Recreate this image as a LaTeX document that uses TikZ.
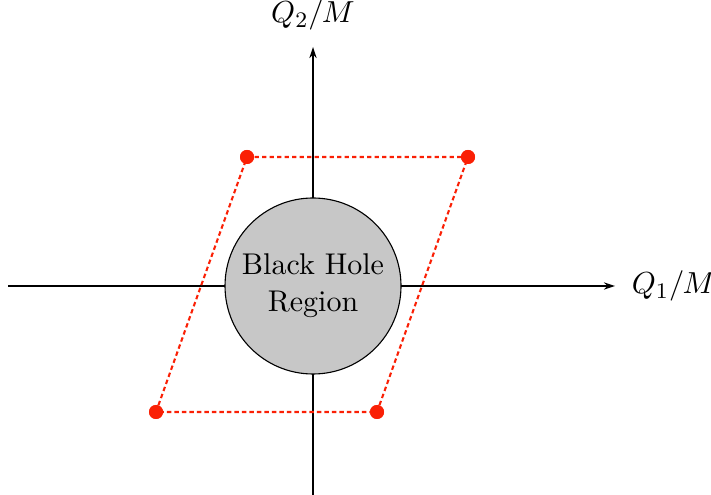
\documentclass[tikz,border=0pt]{standalone}
\usetikzlibrary{arrows.meta}
\definecolor{dotred}{RGB}{250,32,5}
\begin{document}
\begin{tikzpicture}[x=0.36pt,y=-0.36pt,font=\fontsize{10.8}{13.2}\selectfont,
  axis/.style={line width=0.4pt,-{Stealth[length=4pt,width=2.6pt]}},
  region/.style={circle,draw,line width=0.4pt,fill=black!22,minimum size=176*0.36pt,inner sep=0pt,align=center},
  bound/.style={dotred,dash pattern=on 1.6pt off 1.1pt,line width=0.75pt},
  pt/.style={circle,fill=dotred,inner sep=0pt,minimum size=14*0.36pt}]
\useasboundingbox (0,0) rectangle (711,495);
\coordinate (xl) at (8,286);
\coordinate (xr) at (615,286);
\coordinate (yb) at (313,495);
\coordinate (yt) at (313,47);
\draw[axis] (xl) -- (xr);
\draw[axis] (yb) -- (yt);
\node[anchor=west] (q1) at (622,286) {$Q_1/M$};
\node[anchor=south] (q2) at (313,40) {$Q_2/M$};
\node[region] (bh) at (313,286) {Black Hole\\Region};
\node[pt] (a) at (247,157) {};
\node[pt] (b) at (468,157) {};
\node[pt] (c) at (377,412) {};
\node[pt] (d) at (156,412) {};
\draw[bound] (a.center) -- (b.center) -- (c.center) -- (d.center) -- cycle;
\node[pt] at (a) {};
\node[pt] at (b) {};
\node[pt] at (c) {};
\node[pt] at (d) {};
\end{tikzpicture}
\end{document}
